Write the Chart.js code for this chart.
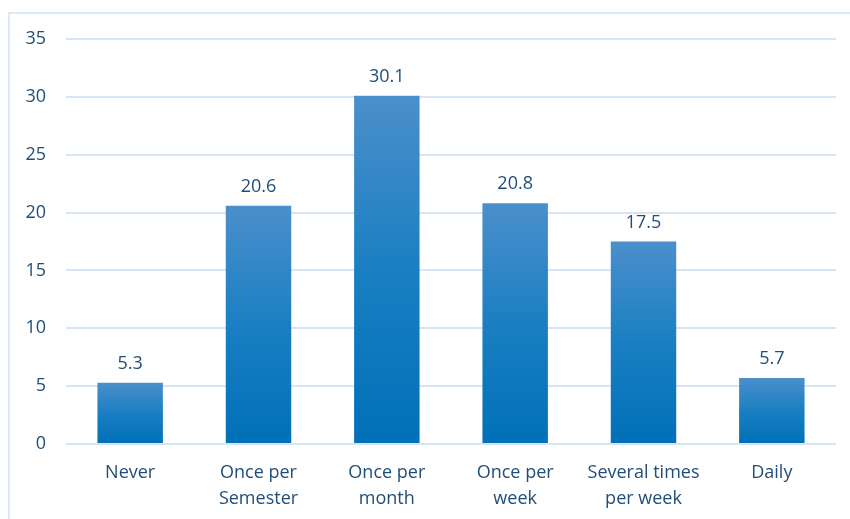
<!DOCTYPE html>
<html>
<head>
<meta charset="utf-8">
<script src="https://cdn.jsdelivr.net/npm/chart.js@4/dist/chart.umd.min.js"></script>
<style>
    html, body { margin: 0; padding: 0; background: #fff; }
    #wrap { position: relative; width: 850px; height: 519px; }
    #frame {
        position: absolute; left: 8px; top: 12px; right: -10px; bottom: -10px;
        border-left: 2px solid #dde9f6; border-top: 2px solid #dde9f6;
    }
    canvas { position: absolute; left: 0; top: 0; }
</style>
</head>
<body>
<div id="wrap">
    <div id="frame"></div>
    <canvas id="freqChart" width="850" height="519"></canvas>
</div>
<script>
const categories = [
    "Never",
    ["Once per", "Semester"],
    ["Once per", "month"],
    ["Once per", "week"],
    ["Several times", "per week"],
    "Daily"
];
const percents = [5.3, 20.6, 30.1, 20.8, 17.5, 5.7];
const yTicks = [0, 5, 10, 15, 20, 25, 30, 35];

const textColor = "#1f4e79";
const fontFamily = "'Open Sans', sans-serif";

function barGradient(ctx) {
    const chart = ctx.chart;
    if (!chart.chartArea || ctx.parsed === undefined) return "#2a80c2";
    const y = chart.scales.y;
    const top = y.getPixelForValue(ctx.parsed.y);
    const base = y.getPixelForValue(0);
    const g = chart.ctx.createLinearGradient(0, top, 0, base);
    g.addColorStop(0, "#4b8fcb");
    g.addColorStop(0.5, "#1a7fc2");
    g.addColorStop(1, "#0070b8");
    return g;
}

const valueLabels = {
    id: "valueLabels",
    afterDatasetsDraw(chart) {
        const ctx = chart.ctx;
        const meta = chart.getDatasetMeta(0);
        ctx.save();
        ctx.font = "18px " + fontFamily;
        ctx.fillStyle = textColor;
        ctx.textAlign = "center";
        ctx.textBaseline = "bottom";
        meta.data.forEach((bar, i) => {
            ctx.fillText(percents[i].toFixed(1), bar.x, bar.y - 10);
        });
        ctx.restore();
    }
};

new Chart(document.getElementById("freqChart"), {
    type: "bar",
    data: {
        labels: categories,
        datasets: [{
            data: percents,
            backgroundColor: barGradient,
            borderWidth: 0,
            categoryPercentage: 1,
            barPercentage: 0.51
        }]
    },
    options: {
        responsive: false,
        animation: false,
        layout: { padding: { top: 39, right: 14, left: 0, bottom: 0 } },
        plugins: {
            legend: { display: false },
            tooltip: { enabled: false }
        },
        scales: {
            x: {
                grid: { display: false, drawTicks: false },
                border: { display: false },
                ticks: {
                    color: textColor,
                    font: { family: fontFamily, size: 18, lineHeight: 1.45 },
                    padding: 16,
                    maxRotation: 0,
                    autoSkip: false
                },
                afterFit: scale => { scale.height = 75; }
            },
            y: {
                min: 0,
                max: 35,
                afterBuildTicks: scale => {
                    scale.ticks = yTicks.map(v => ({ value: v }));
                },
                grid: { color: "#d6e4f3", lineWidth: 2, drawTicks: false },
                border: { display: false },
                ticks: {
                    color: textColor,
                    font: { family: fontFamily, size: 18 },
                    padding: 20
                },
                afterFit: scale => { scale.width = 66; }
            }
        }
    },
    plugins: [valueLabels]
});
</script>
</body>
</html>
